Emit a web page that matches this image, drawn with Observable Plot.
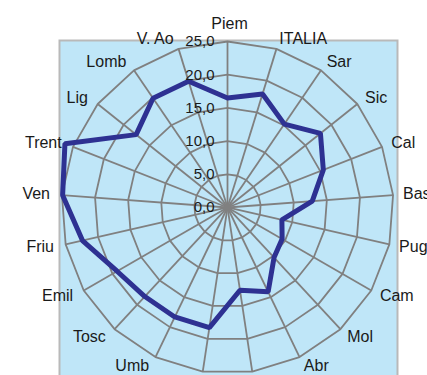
<!DOCTYPE html>
<html>
<head>
<meta charset="utf-8">
<script src="https://cdn.jsdelivr.net/npm/d3@7"></script>
<script src="https://cdn.jsdelivr.net/npm/@observablehq/plot@0.6"></script>
<style>
  html, body { margin: 0; padding: 0; background: #fff; overflow: hidden; }
  #wrap { width: 427px; height: 375px; overflow: hidden; }
</style>
</head>
<body>
<div id="wrap"></div>
<script>
const categories = ["Piem","ITALIA","Sar","Sic","Cal","Bas","Pug","Cam","Mol","Abr","Laz","Mar","Umb","Tosc","Emil","Friu","Ven","Trent","Lig","Lomb","V. Ao"];
const values = [16.5, 17.9, 15.2, 17.9, 15.5, 12.8, 8.4, 9.5, 10.3, 14.1, 12.6, 18.3, 18.3, 18.3, 19.2, 22.4, 24.9, 26.3, 17.6, 19.9, 19.9];
const ticks = [0, 5, 10, 15, 20, 25];
const tickLabels = ["0,0", "5,0", "10,0", "15,0", "20,0", "25,0"];

const n = categories.length;
const maxV = 25;
const ang = i => i * 2 * Math.PI / n;

const axes = categories.map((c, i) => ({
  cat: c, i, a: ang(i),
  x: maxV * Math.sin(ang(i)), y: maxV * Math.cos(ang(i)),
  lx: 26.5 * Math.sin(ang(i)), ly: 26.5 * Math.cos(ang(i)),
  s: Math.sin(ang(i))
}));

const rings = [];
ticks.filter(t => t > 0).forEach(t => {
  for (let i = 0; i <= n; i++) {
    const a = ang(i % n);
    rings.push({ring: t, x: t * Math.sin(a), y: t * Math.cos(a)});
  }
});

const pts = [];
for (let i = 0; i <= n; i++) {
  const k = i % n;
  pts.push({cat: categories[k], v: values[k], x: values[k] * Math.sin(ang(k)), y: values[k] * Math.cos(ang(k))});
}

const tickData = ticks.map((t, i) => ({t, label: tickLabels[i]}));

const font = "Liberation Sans, Arial, Helvetica, sans-serif";

const chart = Plot.plot({
  width: 427,
  height: 400,
  marginLeft: 59,
  marginRight: 30,
  marginTop: 40,
  marginBottom: 0,
  x: {domain: [-25.3, 25.6], axis: null},
  y: {domain: [-29.07, 25.15], axis: null},
  style: {fontFamily: font, background: "transparent", overflow: "visible"},
  marks: [
    Plot.frame({fill: "#bfe6f8", stroke: "#b9b9b9", strokeWidth: 2}),
    Plot.line(rings, {x: "x", y: "y", z: "ring", stroke: "#808080", strokeWidth: 1.8}),
    Plot.link(axes, {x1: 0, y1: 0, x2: "x", y2: "y", stroke: "#808080", strokeWidth: 1.8}),
    Plot.line(pts, {x: "x", y: "y", stroke: "#2e3192", strokeWidth: 5, strokeLinejoin: "miter", curve: "linear"}),
    Plot.text(tickData, {x: 0, y: "t", text: "label", dx: -13, textAnchor: "end", fontSize: 15, fill: "#1a1a1a"}),
    Plot.text(axes.filter(d => d.s > 0.05), {x: "lx", y: "ly", text: "cat", textAnchor: "start", fontSize: 16, fill: "#1a1a1a"}),
    Plot.text(axes.filter(d => d.s < -0.05), {x: "lx", y: "ly", text: "cat", textAnchor: "end", dx: -2, fontSize: 16, fill: "#1a1a1a"}),
    Plot.text(axes.filter(d => Math.abs(d.s) <= 0.05), {x: "lx", y: "ly", text: "cat", textAnchor: "middle", lineAnchor: "bottom", dx: 2, dy: -3, fontSize: 16, fill: "#1a1a1a"})
  ]
});

document.getElementById("wrap").appendChild(chart);
</script>
</body>
</html>
